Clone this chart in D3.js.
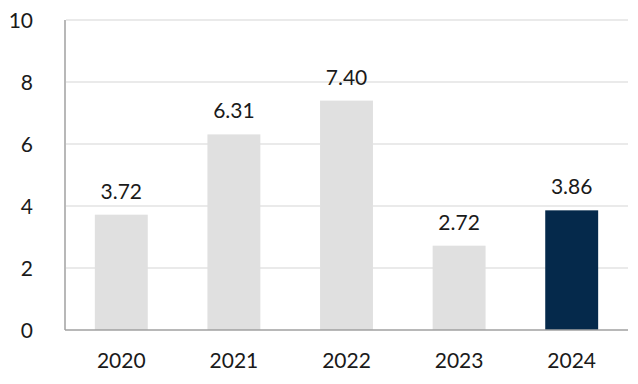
<!DOCTYPE html>
<html><head><meta charset="utf-8">
<script src="https://cdn.jsdelivr.net/npm/d3@7"></script>
<style>body{margin:0;background:#fff}svg{display:block}</style>
</head><body>
<svg id="c" width="638" height="384"></svg>
<script>
const categories = ["2020","2021","2022","2023","2024"];
const values = [3.72, 6.31, 7.40, 2.72, 3.86];
const labels = ["3.72","6.31","7.40","2.72","3.86"];
const yTicks = [0,2,4,6,8,10];
const highlight = "2024";

const svg = d3.select("#c");
const font = "Lato, 'Open Sans', sans-serif";
const x = d3.scaleBand().domain(categories).range([65,628]).paddingInner(0.53).paddingOuter(0.265);
const y = d3.scaleLinear().domain([0,10]).range([330,20]);

svg.append("g").selectAll("line").data(yTicks.filter(t=>t>0)).join("line")
  .attr("x1",66).attr("x2",628).attr("y1",d=>y(d)).attr("y2",d=>y(d))
  .attr("stroke","#e3e3e3").attr("stroke-width",1.5);

svg.append("g").selectAll("rect").data(categories).join("rect")
  .attr("x",d=>x(d)).attr("width",x.bandwidth())
  .attr("y",(d,i)=>y(values[i])).attr("height",(d,i)=>y(0)-y(values[i]))
  .attr("fill",d=>d===highlight?"#05294b":"#e0e0e0");

svg.append("line").attr("x1",65).attr("x2",65).attr("y1",y(10)).attr("y2",y(0)).attr("stroke","#a0a0a0").attr("stroke-width",1.5);
svg.append("line").attr("x1",65).attr("x2",628).attr("y1",y(0)).attr("y2",y(0)).attr("stroke","#a0a0a0").attr("stroke-width",1.5);

const txt = sel => sel.attr("font-family",font).attr("font-size",21).attr("font-weight",400).attr("fill","#1a1a1a");

svg.append("g").selectAll("text").data(yTicks).join("text")
  .attr("x",33).attr("y",d=>y(d)).attr("dy","0.36em").attr("text-anchor","end")
  .call(txt).text(d=>d);

svg.append("g").selectAll("text").data(categories).join("text")
  .attr("x",d=>x(d)+x.bandwidth()/2).attr("y",368).attr("text-anchor","middle")
  .call(txt).text(d=>d);

svg.append("g").selectAll("text").data(categories).join("text")
  .attr("x",d=>x(d)+x.bandwidth()/2).attr("y",(d,i)=>y(values[i])-16).attr("text-anchor","middle")
  .call(txt).text((d,i)=>labels[i]);
</script>
</body></html>
